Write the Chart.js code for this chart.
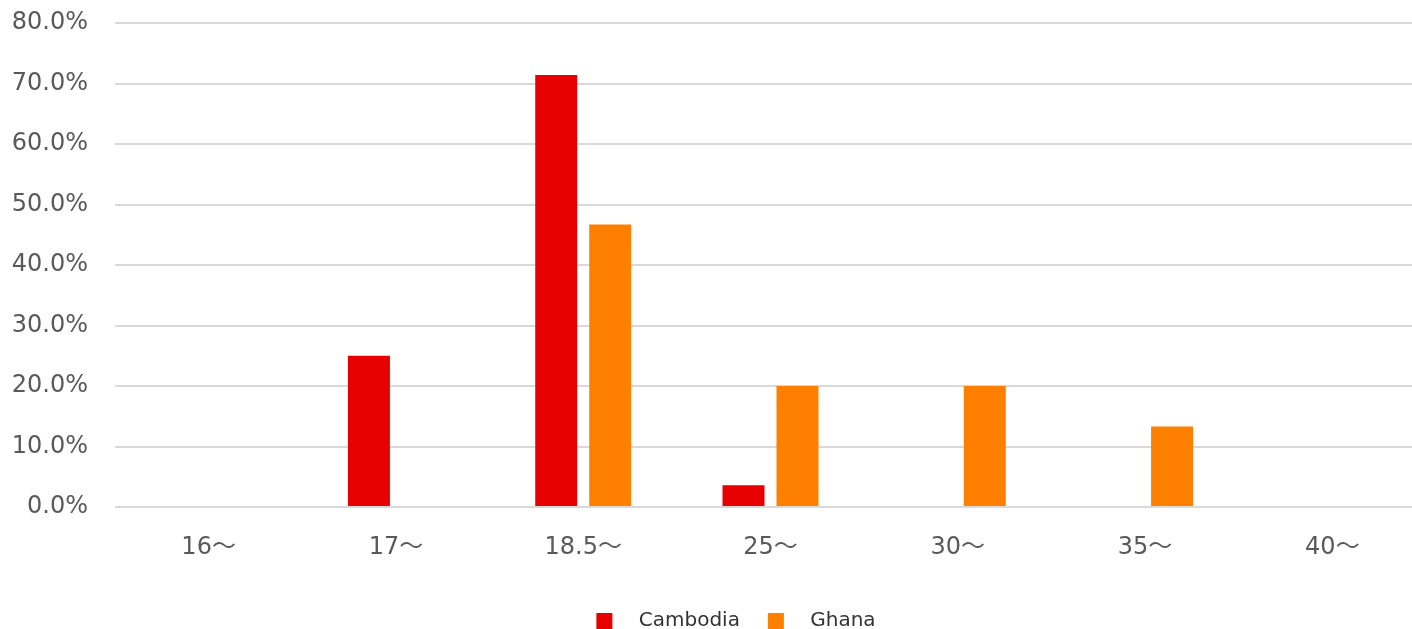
<!DOCTYPE html>
<html>
<head>
<meta charset="utf-8">
<script src="https://cdn.jsdelivr.net/npm/chart.js@4.4.0/dist/chart.umd.min.js"></script>
<style>
html,body{margin:0;padding:0;background:#fff;overflow:hidden;width:1412px;height:629px;}
#wrap{position:absolute;left:0;top:0;width:1426px;height:641px;}
</style>
</head>
<body>
<div id="wrap"><canvas id="c" width="1426" height="641" style="width:1426px;height:641px"></canvas></div>
<script>
const categories = ['16～', '17～', '18.5～', '25～', '30～', '35～', '40～'];
const cambodia = [0, 25.0, 71.4, 3.6, 0, 0, 0];
const ghana = [0, 0, 46.7, 20.0, 20.0, 13.3, 0];
const seriesNames = ['Cambodia', 'Ghana'];
const yMax = 80;
const yStep = 10;

const FONT = '"DejaVu Sans", Verdana, "Noto Sans CJK JP", sans-serif';

const legendShift = {
  id: 'legendShift',
  afterLayout(chart) {
    const lg = chart.legend;
    if (lg) { lg.left += 19; lg.right += 19; }
  }
};

new Chart(document.getElementById('c'), {
  type: 'bar',
  plugins: [legendShift],
  data: {
    labels: categories,
    datasets: [
      { label: seriesNames[0], data: cambodia, backgroundColor: '#e60000', borderWidth: 0,
        categoryPercentage: 0.5765, barPercentage: 0.778 },
      { label: seriesNames[1], data: ghana, backgroundColor: '#ff8000', borderWidth: 0,
        categoryPercentage: 0.5765, barPercentage: 0.778 }
    ]
  },
  options: {
    responsive: false,
    animation: false,
    devicePixelRatio: 1,
    layout: { padding: { left: 8, right: 0, top: 23, bottom: 0 } },
    plugins: {
      tooltip: { enabled: false },
      legend: {
        position: 'bottom',
        labels: {
          boxWidth: 16,
          boxHeight: 16,
          padding: 28,
          color: '#333333',
          font: { family: FONT, size: 20 },
          generateLabels: (chart) => chart.data.datasets.map((ds, i) => ({
            text: '\u2002 ' + ds.label,
            fillStyle: ds.backgroundColor,
            strokeStyle: ds.backgroundColor,
            lineWidth: 0,
            hidden: false,
            datasetIndex: i,
            fontColor: '#333333'
          }))
        }
      }
    },
    scales: {
      x: {
        afterFit: (s) => { s.height = 76; s.paddingLeft = 0; s.paddingRight = 0; },
        grid: { display: false, drawTicks: false },
        border: { display: false },
        ticks: { color: '#595959', padding: 26, font: { family: FONT, size: 24 } }
      },
      y: {
        min: 0, max: yMax,
        afterFit: (s) => { s.width = 107; s.paddingTop = 0; s.paddingBottom = 0; },
        grid: { color: '#d9d9d9', lineWidth: 2, drawTicks: false },
        border: { display: false },
        ticks: {
          stepSize: yStep,
          color: '#595959', padding: 27,
          font: { family: FONT, size: 24 },
          callback: (v) => Number(v).toFixed(1) + '%'
        }
      }
    }
  }
});
</script>
</body>
</html>
